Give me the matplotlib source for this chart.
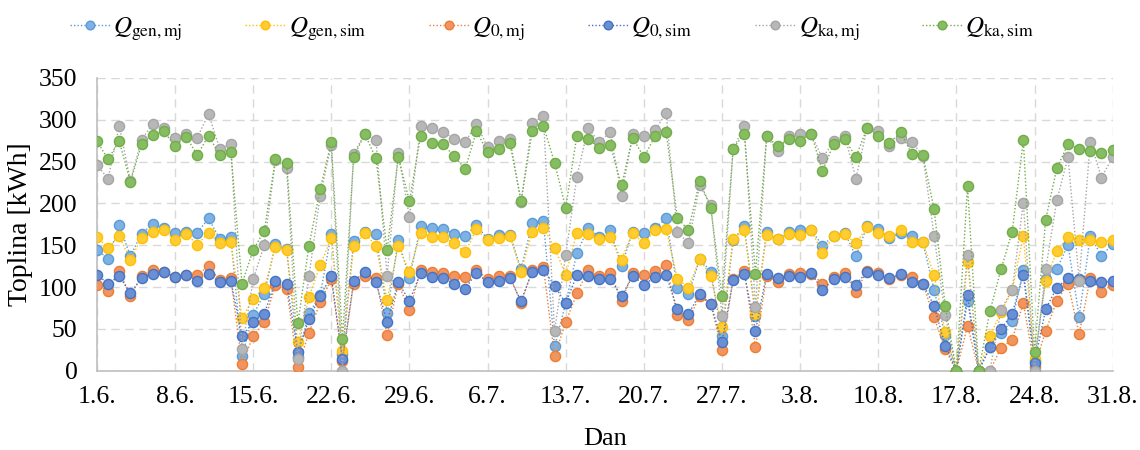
import matplotlib
matplotlib.use("Agg")
import matplotlib.pyplot as plt
import numpy as np
import pandas as pd

plt.rcParams['font.family'] = ['Liberation Serif', 'DejaVu Serif']
plt.rcParams['mathtext.fontset'] = 'stix'

dates = pd.date_range('2023-06-01', '2023-08-31', freq='D')
tick_labels = ['1.6.', '8.6.', '15.6.', '22.6.', '29.6.', '6.7.', '13.7.',
               '20.7.', '27.7.', '3.8.', '10.8.', '17.8.', '24.8.', '31.8.']

Q_gen_mj = [144.6, 134, 174.4, 136.9, 163.9, 175.2, 170.4, 165, 166.4, 165, 182.1, 157.7, 159.9, 17.1, 66.6,
            92.1, 151, 145, 17, 68.5, 90.3, 163.9, 20, 155.1, 165.7, 163.5, 69.2, 155.9, 110.7, 173,
            170.4, 169, 163.9, 161.3, 174.4, 157.3, 162.4, 162.4, 121.3, 177, 179.5, 29.1, 80.5, 140.6, 170.4,
            160.2, 167.9, 124.9, 166.4, 165, 170.4, 182.1, 99.4, 91.4, 133.3, 118.4, 41.2, 156.2, 173, 66,
            166.4, 157.3, 166.4, 167.9, 167.9, 149.7, 161, 165, 136.6, 173, 169.3, 158.4, 165, 161.3, 153.3,
            96.9, 42.2, 0, 83.8, 0, 28, 45.5, 59.4, 120.2, 12, 110, 121.3, 150.8, 64.8, 161.3, 136.9, 151.9]
Q_gen_sim = [159.9, 147.1, 161.3, 132.6, 158.4, 166.4, 167.9, 155.9, 163.5, 150.8, 164.9, 152.2, 153.3, 63, 86.3,
             99.4, 147.5, 144.2, 33.9, 87.8, 126, 158.4, 23.7, 148.6, 165, 148.6, 84.9, 148.6, 118.4, 165,
             159.9, 159.9, 152.2, 141.7, 169, 155.9, 158.4, 161.3, 118.4, 166.4, 171.2, 147.1, 114.7, 165, 163.9,
             157.3, 159.9, 132.9, 165, 152.2, 167.9, 169, 109.6, 99.4, 133.3, 113.3, 52.8, 157.3, 167.9, 67.7,
             162.4, 157.3, 163.5, 162, 167.9, 140.6, 161, 163.5, 152.2, 171.5, 165, 161, 167.9, 153.3, 153.3,
             114.7, 46.2, 0, 130.4, 0, 41.2, 70.3, 96, 161.3, 13.8, 107.4, 143.1, 159.9, 155.9, 155.9, 154.4, 155.9]
Q_0_mj = [102, 95.8, 118.7, 89.9, 112.9, 120.2, 118.4, 111.8, 114.7, 114.7, 124.9, 108.2, 110.3, 8.7, 41.1,
          57.9, 103, 98, 5, 45.2, 81.9, 109.2, 12, 104.2, 113.3, 110.7, 42.2, 104.2, 72.1, 120.2,
          118.4, 117.3, 113.3, 111.8, 120.9, 109.6, 113.3, 113.3, 80.8, 120.2, 124.2, 17.5, 57.9, 92.5, 120.2,
          112.9, 117.3, 83.4, 116.9, 114.7, 118.7, 126.4, 66.6, 60.1, 89.6, 80, 24.8, 109.6, 119.8, 28,
          112.9, 105.6, 115.4, 116.5, 116, 104.2, 112.2, 116.9, 94, 119.4, 117.3, 109.6, 114.7, 111.8, 104.2,
          64.1, 25.5, 0, 53.9, 0, 0, 27.3, 37.3, 81, 5, 47.5, 83.5, 104.2, 44.1, 110.7, 94, 103.1]
Q_0_sim = [114.7, 104.2, 113.3, 92.5, 111, 116.2, 118.4, 111.8, 114.7, 107.1, 115.8, 105.6, 107.1, 41.2, 57.9,
           68.1, 106.7, 104.2, 22.2, 61.9, 89.6, 113.3, 13.8, 106.7, 118.4, 105.6, 58.6, 105.6, 83.4, 116.5,
           111.8, 110.7, 104.2, 98, 117.3, 105.6, 107.1, 110.7, 83.4, 118.4, 120.9, 101.6, 80.5, 114.7, 113.3,
           109.6, 109.6, 88.9, 113.3, 103.1, 111.8, 114.7, 73.6, 68.1, 91.4, 79.8, 34.6, 108.2, 116.2, 47.5,
           115.8, 110.7, 113.3, 111.8, 116.5, 96.5, 109.6, 111.8, 103.1, 118.4, 114.7, 110.7, 115.8, 105.6, 104.2,
           77.6, 30.2, 0, 90.3, 0, 28.2, 50, 68.1, 115, 9, 73.6, 99.4, 110.7, 109.6, 107.1, 105.6, 107.1]
Q_ka_mj = [246.2, 229.4, 292.8, 227, 276, 295, 289.5, 278.6, 282.6, 278.6, 307, 265.5, 270.6, 25.5, 109.2,
           150.4, 252, 242.2, 13.8, 113.3, 208.7, 270, 0, 259.6, 282.6, 276, 113.3, 260.7, 183.2, 292.8,
           290.2, 285.9, 277.1, 273.5, 295, 267.3, 274.2, 277.5, 202, 296.4, 304.1, 47.3, 138, 232, 290.2,
           272.8, 285.1, 209, 282.6, 280, 287.7, 307.7, 166.4, 152.2, 221.4, 198.5, 65.9, 265, 292.8, 75.7,
           280, 262.6, 281.1, 283.3, 283, 253.8, 274.2, 281.1, 229.4, 290.2, 286.2, 268, 278.6, 273.5, 257,
           161.3, 66.6, 0, 138.4, 0, 0, 73.2, 96.5, 201, 0, 121.3, 203.6, 255.3, 107.8, 273.5, 230.9, 255.3]
Q_ka_sim = [274.2, 253.1, 274.2, 225.8, 270.6, 282.2, 286.2, 268.4, 279.7, 257.8, 281.1, 257.8, 261.5, 104.2, 144.2,
            167.5, 253.5, 248.7, 56.6, 149.7, 216.7, 273.5, 37.5, 255.3, 283, 253.8, 144.2, 255.3, 202.5, 281.1,
            272, 270.6, 256.7, 241.1, 286.2, 261.5, 265.5, 272, 202.5, 286.2, 292.8, 248.7, 194.8, 281.1, 277.1,
            266.6, 269.5, 221.4, 278.6, 255.3, 280, 285.1, 182.8, 167.9, 226.9, 194.8, 88.9, 265.5, 283.3, 116.2,
            280, 268.4, 277.1, 274.6, 283.3, 238.5, 270.9, 277.1, 255.3, 290.2, 281.1, 272, 285.1, 259.3, 257.5,
            193.7, 77.6, 0, 220.3, 0, 71, 121.3, 166.2, 275.7, 22.9, 180.6, 242.2, 270.6, 265.5, 262.9, 260.4, 264]

series = [
    (Q_gen_mj, r'$Q_{\mathrm{gen,mj}}$', '#7FB2E4', '#5B9BD5'),
    (Q_gen_sim, r'$Q_{\mathrm{gen,sim}}$', '#FFCC33', '#FFC000'),
    (Q_0_mj, r'$Q_{0\mathrm{,mj}}$', '#F29460', '#ED7D31'),
    (Q_0_sim, r'$Q_{0\mathrm{,sim}}$', '#6A8FD3', '#4472C4'),
    (Q_ka_mj, r'$Q_{\mathrm{ka,mj}}$', '#B7B7B7', '#A5A5A5'),
    (Q_ka_sim, r'$Q_{\mathrm{ka,sim}}$', '#86BD62', '#70AD47'),
]

fig = plt.figure(figsize=(11.4, 4.5), dpi=100)
ax = fig.add_axes([0.085, 0.176, 0.891, 0.651])

x = np.arange(len(dates))
for vals, lab, fc, ec in series:
    ax.plot(x, vals, linestyle=(0, (1, 1.5)), linewidth=1.0, color=ec,
            marker='o', markersize=7.3, markerfacecolor=fc, markeredgecolor=ec,
            markeredgewidth=1.0, label=lab, zorder=3)

ax.set_xlim(0, len(dates) - 1)
ax.set_ylim(0, 350)
ax.set_yticks(np.arange(0, 351, 50))
ax.set_xticks(np.arange(0, len(dates), 7))
ax.set_xticklabels(tick_labels)
ax.tick_params(axis='both', length=0, labelsize=18.5)
ax.tick_params(axis='y', pad=14)
ax.tick_params(axis='x', pad=11)
ax.grid(True, color='#D9D9D9', linestyle=(0, (6, 4)), linewidth=1.0, zorder=0)
for s in ['top', 'right']:
    ax.spines[s].set_visible(False)
for s in ['left', 'bottom']:
    ax.spines[s].set_color('#BFBFBF')
    ax.spines[s].set_linewidth(1.2)

ax.set_ylabel('Toplina [kWh]', fontsize=20, labelpad=4)
ax.set_xlabel('Dan', fontsize=19, labelpad=14)

leg = fig.legend(loc='upper center', bbox_to_anchor=(0.484, 1.015), ncol=6, frameon=False,
                 fontsize=18, handlelength=1.6, columnspacing=2.5, handletextpad=0.15,
                 markerscale=0.85)

fig.savefig('out.png', dpi=100)
